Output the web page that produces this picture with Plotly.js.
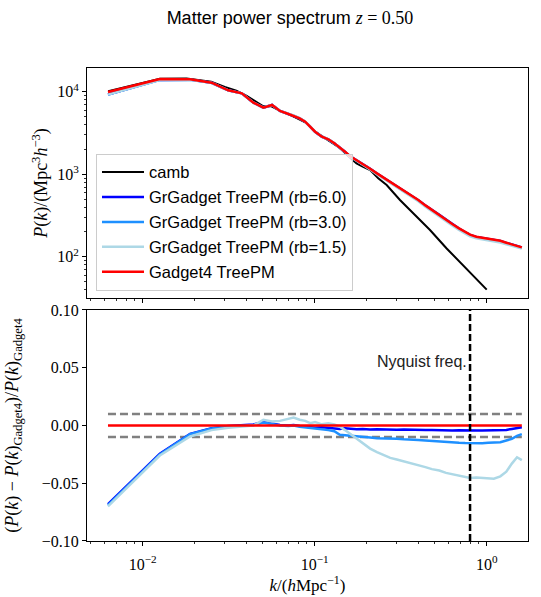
<!DOCTYPE html>
<html>
<head>
<meta charset="utf-8">
<script src="https://cdn.plot.ly/plotly-3.0.1.min.js"></script>
<style>html,body{margin:0;padding:0;background:#fff;}#chart{width:541px;height:597px;}</style>
</head>
<body>
<div id="chart"></div>
<script>
// ---- data ----
var kSim = [0.00628, 0.01257, 0.01885, 0.02513, 0.03142, 0.0377, 0.044, 0.0503, 0.0565, 0.0628,
  0.0703, 0.0754, 0.0817, 0.088, 0.0942, 0.1005, 0.11, 0.12, 0.13, 0.14,
  0.15, 0.16, 0.175, 0.19, 0.21, 0.23, 0.25, 0.275, 0.3, 0.33,
  0.36, 0.4, 0.44, 0.48, 0.53, 0.58, 0.63, 0.69, 0.75, 0.8,
  0.87, 0.94, 1.02, 1.1, 1.2, 1.3, 1.4, 1.5, 1.6];

var pGadget4 = [9900, 14250, 14100, 12850, 10400, 9550, 7360, 6400, 6900, 5840,
  5370, 5120, 4750, 4330, 3770, 3270, 2850, 2650, 2370, 2120,
  1875, 1660, 1485, 1330, 1167, 1025, 917, 805, 706, 626,
  554, 487, 419, 368, 323, 284, 249, 221, 199, 185,
  175, 170, 165, 162, 156, 148, 141, 135, 130];

var pRb60 = [9227, 13900, 14000, 12820, 10395, 9550, 7366, 6420, 6910, 5843,
  5370, 5122, 4748, 4326, 3765, 3263, 2846, 2645, 2364, 2114,
  1870, 1655, 1480, 1326, 1163, 1021, 914, 802, 703, 624,
  552, 485, 417, 366, 322, 283, 248, 220, 198, 184,
  174, 169, 164, 161, 155, 147, 140, 135, 130];

var pRb30 = [9217, 13894, 13994, 12818, 10392, 9547, 7364, 6416, 6907, 5840,
  5367, 5120, 4745, 4323, 3762, 3260, 2840, 2640, 2358, 2103,
  1859, 1645, 1471, 1317, 1155, 1014, 907, 796, 698, 618,
  547, 481, 414, 363, 318, 280, 245, 218, 196, 182,
  172, 167, 163, 160, 154, 146, 139, 134, 129];

var pRb15 = [9207, 13880, 13970, 12800, 10380, 9540, 7360, 6430, 6920, 5860,
  5400, 5155, 4770, 4350, 3780, 3280, 2853, 2655, 2372, 2118,
  1867, 1648, 1468, 1309, 1144, 1001, 894, 782, 685, 607,
  536, 470, 404, 354, 310, 272, 239, 211, 190, 177,
  167, 162, 157, 155, 149, 142, 136, 131, 126];

var kCamb = [0.0063, 0.0126, 0.018, 0.025, 0.03, 0.035, 0.04, 0.045, 0.05, 0.056,
  0.063, 0.07, 0.08, 0.09, 0.1, 0.12, 0.14, 0.16, 0.175, 0.19,
  0.21, 0.234, 0.262, 0.313, 0.374, 0.468, 0.585, 0.731, 1.0];
var pCamb = [10100, 14350, 14450, 13200, 11400, 10300, 8950, 7600, 6700, 6650,
  5850, 5380, 4720, 4150, 3300, 2600, 2080, 1590, 1356, 1240,
  1125, 891, 740, 487, 336, 211, 126, 79, 40];

var ratioRb60 = [-0.068, -0.0245, -0.0072, -0.0023, -0.0005, 0.0, 0.0008, 0.003, 0.0015, 0.0005,
  0.0, 0.0005, -0.0005, -0.001, -0.0012, -0.002, -0.0015, -0.002, -0.0025, -0.003,
  -0.0025, -0.003, -0.0032, -0.003, -0.0035, -0.0033, -0.0036, -0.0034, -0.0037, -0.0035,
  -0.0038, -0.0036, -0.004, -0.0038, -0.0041, -0.0039, -0.0043, -0.0041, -0.0044, -0.0045,
  -0.0043, -0.0044, -0.0042, -0.0043, -0.0041, -0.0038, -0.003, -0.0025, -0.0015];

var ratioRb30 = [-0.069, -0.025, -0.0075, -0.0025, -0.0008, -0.0003, 0.0005, 0.0025, 0.001, 0.0,
  -0.0005, 0.0, -0.001, -0.0015, -0.002, -0.003, -0.0035, -0.004, -0.005, -0.008,
  -0.0085, -0.009, -0.0095, -0.010, -0.0105, -0.011, -0.011, -0.0115, -0.0115, -0.012,
  -0.012, -0.0125, -0.013, -0.0135, -0.014, -0.0145, -0.015, -0.015, -0.0152, -0.0153,
  -0.0155, -0.0153, -0.015, -0.015, -0.0145, -0.013, -0.0115, -0.009, -0.0075];

var ratioRb15 = [-0.070, -0.026, -0.0095, -0.004, -0.002, -0.001, 0.0, 0.005, 0.0035, 0.004,
  0.006, 0.0068, 0.005, 0.004, 0.002, 0.003, 0.001, 0.002, 0.001, -0.001,
  -0.004, -0.007, -0.0115, -0.0155, -0.020, -0.023, -0.0255, -0.028, -0.0295, -0.031,
  -0.0325, -0.034, -0.036, -0.0378, -0.039, -0.041, -0.042, -0.0435, -0.0445, -0.0455,
  -0.045, -0.0455, -0.0458, -0.046, -0.044, -0.040, -0.033, -0.0275, -0.030];

var ratioGadget4 = [0, 0, 0, 0, 0, 0, 0, 0, 0, 0, 0, 0, 0, 0, 0, 0, 0, 0, 0, 0,
  0, 0, 0, 0, 0, 0, 0, 0, 0, 0, 0, 0, 0, 0, 0, 0, 0, 0, 0, 0,
  0, 0, 0, 0, 0, 0, 0, 0, 0];

var tolerance = 0.01;
var nyquistK = 0.8;
var ratioLimits = [-0.1, 0.1];

var seriesNames = ['camb', 'GrGadget TreePM (rb=6.0)', 'GrGadget TreePM (rb=3.0)', 'GrGadget TreePM (rb=1.5)', 'Gadget4 TreePM'];
var xTickVals = [0.01, 0.1, 1];
var xTickText = ['10<sup>\u22122</sup>', '10<sup>\u22121</sup>', '10<sup>0</sup>'];
var yTopTickVals = [100, 1000, 10000];
var yTopTickText = ['10<sup>2</sup>', '10<sup>3</sup>', '10<sup>4</sup>'];
var yBotTickVals = [-0.1, -0.05, 0, 0.05, 0.1];
var yBotTickText = ['\u22120.10', '\u22120.05', '0.00', '0.05', '0.10'];

// ---- styling ----
var SANS = 'Liberation Sans, Arial, sans-serif';
var SERIF = 'Liberation Serif, Times New Roman, serif';
var colors = ['#000000', '#0000ff', '#1e90ff', '#add8e6', '#ff0000'];

function minorLogTicks(lo, hi) {
  var out = [];
  for (var e = lo; e <= hi; e++) {
    for (var m = 2; m <= 9; m++) out.push(m * Math.pow(10, e));
  }
  return out;
}
var minorX = minorLogTicks(-3, 0);
var minorY = minorLogTicks(1, 4);

var traces = [];
var pSeries = [pRb60, pRb30, pRb15, pGadget4];
traces.push({x: kCamb, y: pCamb, xaxis: 'x2', yaxis: 'y2', mode: 'lines', name: seriesNames[0],
  line: {color: colors[0], width: 2}, legendgroup: 'g0'});
for (var i = 0; i < 4; i++) {
  traces.push({x: kSim, y: pSeries[i], xaxis: 'x2', yaxis: 'y2', mode: 'lines', name: seriesNames[i + 1],
    line: {color: colors[i + 1], width: 2.5}, legendgroup: 'g' + (i + 1)});
}
// bottom panel
traces.push({x: [kSim[0], kSim[kSim.length - 1]], y: [tolerance, tolerance], xaxis: 'x', yaxis: 'y', mode: 'lines',
  line: {color: '#808080', width: 2.5, dash: '8px,4px'}, showlegend: false, hoverinfo: 'skip'});
traces.push({x: [kSim[0], kSim[kSim.length - 1]], y: [-tolerance, -tolerance], xaxis: 'x', yaxis: 'y', mode: 'lines',
  line: {color: '#808080', width: 2.5, dash: '8px,4px'}, showlegend: false, hoverinfo: 'skip'});
var rSeries = [ratioRb60, ratioRb30, ratioRb15, ratioGadget4];
for (var j = 0; j < 4; j++) {
  traces.push({x: kSim, y: rSeries[j], xaxis: 'x', yaxis: 'y', mode: 'lines',
    line: {color: colors[j + 1], width: 2.5}, showlegend: false});
}
traces.push({x: [nyquistK, nyquistK], y: ratioLimits, xaxis: 'x', yaxis: 'y', mode: 'lines',
  line: {color: '#000000', width: 2.5, dash: '7px,3px'}, showlegend: false, hoverinfo: 'skip'});

var xRange = [-2.324, 0.240];
function xAxisBase() {
  return {
    type: 'log', range: xRange, showgrid: false, zeroline: false,
    showline: true, mirror: true, linecolor: '#000', linewidth: 1,
    ticks: 'outside', ticklen: 4, tickwidth: 1, tickcolor: '#000',
    tickmode: 'array', tickvals: xTickVals, ticktext: xTickText,
    minor: {tickmode: 'array', tickvals: minorX, ticks: 'outside', ticklen: 2, tickwidth: 0.8, tickcolor: '#000', showgrid: false},
    tickfont: {family: SERIF, size: 16, color: '#000'}
  };
}
var xa = xAxisBase();
xa.anchor = 'y';
xa.domain = [0, 1];
xa.ticklabelstandoff = 5;
xa.title = {text: '<i>k</i>/(<i>h</i>Mpc<sup>\u22121</sup>)', font: {family: SERIF, size: 17, color: '#000'}, standoff: 3};
var xa2 = xAxisBase();
xa2.anchor = 'y2';
xa2.domain = [0, 1];
xa2.showticklabels = false;
xa2.matches = 'x';

var layout = {
  width: 541, height: 597,
  margin: {l: 87, r: 13, t: 68, b: 56},
  paper_bgcolor: '#fff', plot_bgcolor: '#fff',
  font: {family: SANS, color: '#000'},
  title: {
    text: 'Matter power spectrum <span style="font-family:\'Liberation Serif\'"><i>z</i> = 0.50</span>',
    font: {family: SANS, size: 18, color: '#000'},
    xref: 'container', x: 290 / 541, xanchor: 'center',
    yref: 'container', y: 1 - 18 / 597, yanchor: 'middle'
  },
  xaxis: xa,
  xaxis2: xa2,
  yaxis: {
    anchor: 'x', domain: [0, 0.4884], range: ratioLimits, showgrid: false, zeroline: false,
    showline: true, mirror: true, linecolor: '#000', linewidth: 1,
    ticks: 'outside', ticklen: 4, tickwidth: 1, tickcolor: '#000',
    tickmode: 'array', tickvals: yBotTickVals, ticktext: yBotTickText,
    tickfont: {family: SERIF, size: 16, color: '#000'},
    title: {text: '(<i>P</i>(<i>k</i>) \u2212 <i>P</i>(<i>k</i>)<sub>Gadget4</sub>)/<i>P</i>(<i>k</i>)<sub>Gadget4</sub>',
      font: {family: SERIF, size: 18, color: '#000'}, standoff: 18}
  },
  yaxis2: {
    anchor: 'x2', domain: [0.5137, 1], type: 'log', range: [1.5, 4.287], showgrid: false, zeroline: false,
    showline: true, mirror: true, linecolor: '#000', linewidth: 1,
    ticks: 'outside', ticklen: 4, tickwidth: 1, tickcolor: '#000',
    tickmode: 'array', tickvals: yTopTickVals, ticktext: yTopTickText,
    minor: {tickmode: 'array', tickvals: minorY, ticks: 'outside', ticklen: 2, tickwidth: 0.8, tickcolor: '#000', showgrid: false},
    tickfont: {family: SERIF, size: 16, color: '#000'},
    title: {text: '<i>P</i>(<i>k</i>)/(Mpc<sup>3</sup><i>h</i><sup>\u22123</sup>)',
      font: {family: SERIF, size: 18, color: '#000'}, standoff: 4}
  },
  legend: {
    x: 0.0204, y: 0.529, xanchor: 'left', yanchor: 'bottom',
    bgcolor: 'rgba(255,255,255,0.8)', bordercolor: '#cccccc', borderwidth: 1,
    font: {family: SANS, size: 16.5, color: '#000'},
    itemwidth: 42,
    traceorder: 'grouped', tracegroupgap: 0.5
  },
  annotations: [{
    x: Math.log10(nyquistK), xref: 'x', y: 0.055, yref: 'y',
    text: 'Nyquist freq.', showarrow: false, xanchor: 'right', yanchor: 'middle', xshift: -1,
    font: {family: SANS, size: 16, color: '#222'}
  }],
  showlegend: true
};

Plotly.newPlot('chart', traces, layout, {staticPlot: true, displayModeBar: false});
</script>
</body>
</html>
